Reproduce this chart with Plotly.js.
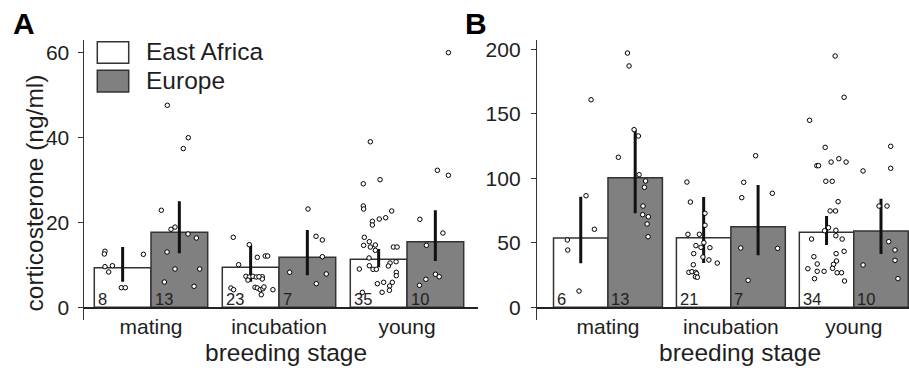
<!DOCTYPE html>
<html><head><meta charset="utf-8">
<script src="https://cdn.plot.ly/plotly-3.0.1.min.js"></script>
<style>html,body{margin:0;padding:0;background:#fff}#chart{width:909px;height:368px}</style>
</head><body><div id="chart"></div>
<script>
const stages = ['mating', 'incubation', 'young'];
const seriesNames = ['East Africa', 'Europe'];
const seriesColors = ['#ffffff', '#808080'];
const xTitle = 'breeding stage';
const yTitle = 'corticosterone (ng/ml)';
const panelLabels = ['A', 'B'];

// ---- Panel A (ng/ml) ----
const aMeanEA = [9.33, 9.42, 11.31];
const aMeanEU = [17.67, 11.78, 15.46];
const aLowEA = [6.03, 6.04, 9.42];
const aHighEA = [14.2, 14.75, 13.74];
const aLowEU = [12.72, 7.54, 10.91];
const aHighEU = [24.97, 18.2, 22.86];
const aNEA = [8, 23, 35];
const aNEU = [13, 7, 10];
const aTicks = [0, 20, 40, 60];

const aPtsEA_Y = [
  [13.2, 12.56, 9.57, 9.8, 8.32, 4.62, 4.62, 12.49],
  [16.49, 14.75, 11.78, 12.09, 12.09, 10.04, 7.3, 7.14, 7.3, 7.14, 7.2, 6.67, 4.55, 4.15, 4.71, 4.55, 4.15, 4.38, 2.97, 4.15, 7.2, 6.4, 4.8],
  [39.0, 29.1, 30.07, 23.87, 23.16, 22.69, 20.26, 19.39, 20.8, 21.1, 16.49, 15.46, 14.6, 14.2, 14.68, 13.43, 14.2, 14.2, 11.62, 9.02, 9.8, 8.95, 8.95, 10.44, 9.73, 10.74, 8.25, 7.45, 5.56, 5.89, 5.89, 5.02, 4.0, 3.53, 3.53]
];
const aPtsEA_DX = [
  [-0.138, -0.143, -0.138, -0.080, -0.109, -0.010, 0.021, 0.162],
  [-0.136, -0.011, 0.052, 0.114, 0.133, -0.094, -0.037, -0.011, 0.018, 0.044, 0.091, 0.091, -0.154, -0.133, 0.034, 0.052, 0.075, 0.096, 0.083, 0.174, 0.065, -0.021, 0.104],
  [-0.065, -0.120, 0.011, -0.120, -0.117, 0.102, -0.049, -0.049, 0.005, 0.055, -0.112, -0.073, -0.117, -0.065, -0.026, -0.026, 0.115, 0.144, -0.075, -0.151, -0.073, -0.044, -0.018, 0.089, 0.076, 0.136, 0.138, 0.138, -0.010, 0.039, 0.107, 0.086, 0.084, 0.027, -0.127]
];
const aPtsEU_Y = [
  [47.6, 39.96, 37.4, 22.86, 18.38, 18.9, 17.27, 16.33, 13.03, 9.02, 9.02, 5.96, 4.95],
  [23.16, 16.73, 15.86, 11.92, 8.25, 7.85, 5.56],
  [60.0, 32.28, 31.1, 20.73, 17.5, 14.6, 7.78, 7.2, 6.6, 5.18]
];
const aPtsEU_DX = [
  [-0.094, 0.070, 0.031, -0.141, -0.065, -0.034, 0.068, 0.133, -0.096, -0.034, 0.159, -0.117, 0.115],
  [0.005, 0.068, 0.117, 0.117, -0.138, 0.148, 0.070],
  [0.102, 0.016, 0.102, -0.121, 0.059, -0.070, 0.001, 0.030, -0.074, -0.124]
];

// ---- Panel B ----
const bMeanEA = [53.7, 54.0, 58.1];
const bMeanEU = [100.5, 62.5, 59.1];
const bLowEA = [34.1, 34.3, 48.3];
const bHighEA = [85.7, 85.5, 70.8];
const bLowEU = [72.9, 40.3, 41.3];
const bHighEU = [138, 94.8, 84.2];
const bNEA = [6, 21, 34];
const bNEU = [13, 7, 10];
const bTicks = [0, 50, 100, 150, 200];

const bPtsEA_Y = [
  [160.9, 86.5, 60.5, 52.2, 44.4, 12.6],
  [97.1, 81.6, 72.9, 63.6, 56.6, 56.6, 50.1, 47.8, 46.5, 46.2, 41.6, 39.0, 36.7, 34.3, 33.0, 27.1, 27.6, 27.1, 26.1, 23.7, 23.3],
  [194.8, 162.8, 145.0, 124.0, 109.8, 109.8, 112.6, 115.2, 112.6, 97.7, 97.7, 81.9, 74.7, 74.7, 61.7, 59.4, 59.7, 55.5, 52.9, 52.9, 41.6, 43.4, 39.2, 33.6, 35.9, 33.3, 30.2, 29.9, 27.9, 27.9, 26.8, 26.8, 22.2, 20.4]
];
const bPtsEA_DX = [
  [0.084, 0.043, 0.111, -0.109, -0.106, -0.014],
  [-0.136, -0.108, 0.011, 0.011, -0.128, -0.035, 0.002, -0.063, -0.022, 0.051, -0.081, -0.006, 0.043, 0.111, -0.084, -0.120, -0.095, -0.065, -0.057, -0.067, -0.051],
  [0.070, 0.143, -0.138, -0.011, -0.079, -0.065, 0.037, 0.100, 0.159, -0.006, 0.046, 0.094, 0.029, 0.073, 0.016, -0.016, 0.076, 0.076, 0.127, -0.122, 0.078, 0.143, -0.103, -0.076, 0.081, 0.057, 0.049, -0.152, -0.076, -0.020, 0.086, 0.122, -0.098, 0.146]
];
const bPtsEU_Y = [
  [197.1, 187.1, 116.3, 137.7, 132.8, 102.8, 97.9, 93.0, 78.5, 71.8, 70.2, 64.6, 54.7],
  [117.5, 96.9, 88.4, 85.0, 46.0, 45.7, 20.9],
  [124.8, 107.8, 105.7, 78.5, 78.5, 50.9, 44.4, 36.4, 32.8, 22.2]
];
const bPtsEU_DX = [
  [-0.063, -0.050, -0.137, -0.009, 0.026, 0.032, 0.085, 0.075, 0.064, 0.061, 0.107, 0.097, 0.105],
  [-0.020, -0.117, 0.116, -0.133, -0.141, 0.159, -0.081],
  [0.079, 0.079, -0.146, -0.016, 0.049, 0.063, 0.114, 0.114, -0.146, 0.138]
];

// ---- build ----
const W = 909, H = 368;
const BW = 0.443;                 // bar width in category units
const FONT = 'Liberation Sans, Arial, Helvetica, sans-serif';
const TXT = '#1e1e1e';
const px = p => p / W, py = p => 1 - p / H;
const idx = stages.map((_, i) => i);

const traces = [];
const annotations = [];

function addPanel(xa, ya, means, lows, highs, ns, ptsY, ptsDX) {
  means.forEach((m, s) => {
    traces.push({
      type: 'bar', x: idx, y: m, name: seriesNames[s], xaxis: xa, yaxis: ya,
      showlegend: false, hoverinfo: 'skip',
      marker: {color: seriesColors[s], line: {color: '#333', width: 1.5}},
      error_y: {type: 'data', symmetric: false,
        array: m.map((v, i) => highs[s][i] - v),
        arrayminus: m.map((v, i) => v - lows[s][i]),
        thickness: 3, width: 0, color: '#111'}
    });
  });
  ptsY.forEach((groups, s) => {
    const xs = [], ys = [];
    groups.forEach((vals, i) => {
      vals.forEach((v, k) => {
        xs.push(i + (s === 0 ? -BW / 2 : BW / 2) + ptsDX[s][i][k]);
        ys.push(v);
      });
    });
    traces.push({
      type: 'scatter', mode: 'markers', x: xs, y: ys, xaxis: xa, yaxis: ya,
      showlegend: false, hoverinfo: 'skip',
      marker: {symbol: 'circle', size: 4.5, color: '#fff', line: {color: '#000', width: 1}}
    });
  });
  ns.forEach((arr, s) => {
    arr.forEach((n, i) => {
      annotations.push({
        xref: xa, yref: ya, x: i - BW + s * BW, y: 0,
        xanchor: 'left', yanchor: 'bottom', xshift: 1.5, yshift: -3,
        text: String(n), showarrow: false,
        font: {family: FONT, size: 16.5, color: '#222'}
      });
    });
  });
}

addPanel('x', 'y', [aMeanEA, aMeanEU], [aLowEA, aLowEU], [aHighEA, aHighEU], [aNEA, aNEU],
  [aPtsEA_Y, aPtsEU_Y], [aPtsEA_DX, aPtsEU_DX]);
addPanel('x2', 'y2', [bMeanEA, bMeanEU], [bLowEA, bLowEU], [bHighEA, bHighEU], [bNEA, bNEU],
  [bPtsEA_Y, bPtsEU_Y], [bPtsEA_DX, bPtsEU_DX]);

const yDom = [py(319.5), py(39.5)];
const xCommon = {
  anchor: 'free', position: py(308), showline: true, linewidth: 2, linecolor: '#222',
  ticks: '', ticklabelstandoff: 0,
  tickvals: idx, ticktext: stages, tickfont: {family: FONT, size: 21, color: TXT},
  showgrid: false, zeroline: false, fixedrange: true
};
const yCommon = {
  domain: yDom, showline: true, linewidth: 1.5, linecolor: '#333',
  ticks: 'outside', ticklen: 5, tickwidth: 1, tickcolor: '#333',
  tickfont: {family: FONT, size: 21, color: TXT},
  showgrid: false, zeroline: false, fixedrange: true, ticklabelstandoff: 4
};

// titles and panel labels
annotations.push({xref: 'paper', yref: 'paper', x: px(34), y: py(193.5), xanchor: 'center', yanchor: 'middle',
  textangle: -90, text: yTitle, showarrow: false, font: {family: FONT, size: 24.5, color: TXT}});
annotations.push({xref: 'paper', yref: 'paper', x: px(286), y: py(352), xanchor: 'center', yanchor: 'middle',
  text: xTitle, showarrow: false, font: {family: FONT, size: 24.5, color: TXT}});
annotations.push({xref: 'paper', yref: 'paper', x: px(740), y: py(352), xanchor: 'center', yanchor: 'middle',
  text: xTitle, showarrow: false, font: {family: FONT, size: 24.5, color: TXT}});
annotations.push({xref: 'paper', yref: 'paper', x: px(11), y: py(24), xanchor: 'left', yanchor: 'middle',
  text: '<b>' + panelLabels[0] + '</b>', showarrow: false, font: {family: FONT, size: 30, color: '#000'}});
annotations.push({xref: 'paper', yref: 'paper', x: px(463), y: py(24), xanchor: 'left', yanchor: 'middle',
  text: '<b>' + panelLabels[1] + '</b>', showarrow: false, font: {family: FONT, size: 30, color: '#000'}});

// legend (drawn as shapes + text)
const legTop = [41.7, 70.3], legBot = [63.3, 92];
const shapes = [];
seriesNames.forEach((name, s) => {
  shapes.push({type: 'rect', xref: 'paper', yref: 'paper', x0: px(97.3), x1: px(128.7),
    y0: py(legBot[s]), y1: py(legTop[s]), fillcolor: seriesColors[s], line: {color: '#333', width: 1.5}});
  annotations.push({xref: 'paper', yref: 'paper', x: px(144), y: py((legTop[s] + legBot[s]) / 2 - 0.5),
    xanchor: 'left', yanchor: 'middle', text: name, showarrow: false,
    font: {family: FONT, size: 24.5, color: TXT}});
});

const layout = {
  width: W, height: H, margin: {l: 0, r: 0, t: 0, b: 0},
  paper_bgcolor: '#fff', plot_bgcolor: 'rgba(0,0,0,0)',
  barmode: 'group', bargap: 1 - 2 * BW, bargroupgap: 0,
  showlegend: false,
  xaxis: Object.assign({}, xCommon, {domain: [px(84), px(478)], range: [-0.5234, 2.5547]}),
  yaxis: Object.assign({}, yCommon, {anchor: 'x', range: [-2.875, 63.10], tickvals: aTicks}),
  xaxis2: Object.assign({}, xCommon, {domain: [px(537.3), 1], range: [-0.575, 2.4494]}),
  yaxis2: Object.assign({}, yCommon, {anchor: 'x2', range: [-9.457, 207.6], tickvals: bTicks, ticklabelstandoff: 6}),
  annotations: annotations,
  shapes: shapes
};

Plotly.newPlot('chart', traces, layout, {staticPlot: true, displayModeBar: false});
</script>
</body></html>
